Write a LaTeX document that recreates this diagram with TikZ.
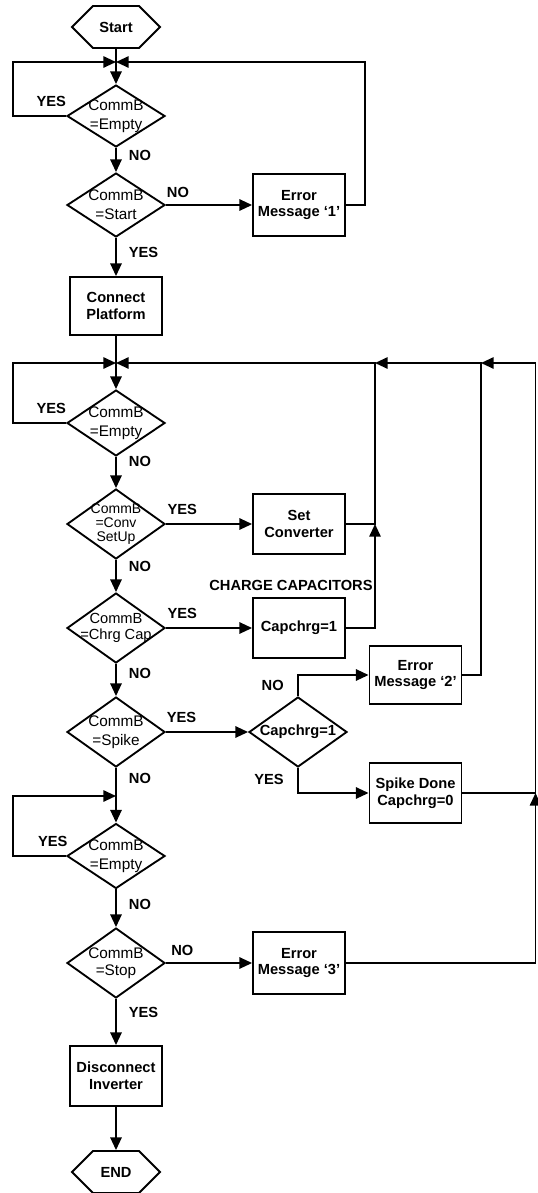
\documentclass[tikz,border=0pt]{standalone}
\usepackage{fontspec}
\setmainfont{Liberation Sans}
\usetikzlibrary{shapes.geometric, shapes.symbols, arrows.meta, positioning}

\begin{document}
\begin{tikzpicture}[
  x=0.75pt, y=-0.75pt,
  >={Triangle[length=9.5pt,width=8.5pt]},
  line width=1.4pt,
  term/.style={draw, signal, signal to=west and east, signal pointer angle=90, minimum width=66pt, minimum height=31.5pt, inner sep=1pt, font=\bfseries\fontsize{11}{12.5}\selectfont},
  box/.style={draw, rectangle, minimum width=69pt, minimum height=45pt, inner sep=2pt, align=center, font=\bfseries\fontsize{11}{12.5}\selectfont},
  dia/.style={draw, diamond, minimum width=73.5pt, minimum height=52.5pt, inner sep=0pt},
  dtext/.style={align=center, inner sep=0pt, font=\fontsize{11.5}{14}\selectfont},
  lbl/.style={inner sep=1pt, font=\bfseries\fontsize{11}{12.5}\selectfont}
]
\useasboundingbox (0,0) rectangle (537,1193);

% main column
\node[term] (begin) at (116,27) {Start};
\coordinate (j1) at (116,62);
\node[dia, minimum height=46.5pt, label={[dtext]center:{CommB\\=Empty}}] (empty1) at (116,116) {};
\node[dia, minimum height=48pt, label={[dtext]center:{CommB\\=Start}}] (chk) at (116,205) {};
\node[box, minimum height=46.5pt] (err1) at (299,205) {Error\\Message ‘1’};
\node[box, minimum height=43.5pt] (conn) at (116,306) {Connect\\Platform};

\coordinate (j2) at (116,363);
\node[dia, minimum height=49.5pt, label={[dtext]center:{CommB\\=Empty}}] (empty2) at (116,423) {};
\node[dia, label={[dtext, font=\fontsize{10.5}{10.5}\selectfont]center:{CommB\\=Conv\\SetUp}}] (conv) at (116,524) {};
\node[box] (setc) at (299,524) {Set\\Converter};
\node[dia, label={[dtext, font=\fontsize{11}{11.5}\selectfont]center:{CommB\\=Chrg Cap}}] (chrg) at (116,628) {};
\node[box] (capc) at (299,628) {Capchrg=1};
\node[lbl, above=3pt of capc, xshift=-6pt] (chglbl) {CHARGE CAPACITORS};
\node[dia, label={[dtext]center:{CommB\\=Spike}}] (spike) at (116,732) {};

% spike branch
\node[dia, label={[dtext, font=\bfseries\fontsize{11}{12.5}\selectfont]center:{Capchrg=1}}] (capd) at (298,732) {};
\node[box, minimum height=43.5pt] (err2) at (415.5,675) {Error\\Message ‘2’};
\node[box] (spd) at (415.5,793) {Spike Done\\Capchrg=0};

\coordinate (j3) at (116,796);
\node[dia, minimum height=48.75pt, label={[dtext]center:{CommB\\=Empty}}] (empty3) at (116,856) {};
\node[dia, label={[dtext, font=\fontsize{11.5}{13}\selectfont]center:{CommB\\=Stop}}] (stop) at (116,963) {};
\node[box, minimum height=46pt] (err3) at (299,963) {Error\\Message ‘3’};
\node[box] (disc) at (116,1076) {Disconnect\\Inverter};
\node[term] (finish) at (116,1172) {END};

% return corners
\coordinate (ja) at (375,363);
\coordinate (jb) at (375,524);
\coordinate (jc) at (481,363);
\coordinate (jd) at (535.5,363);
\coordinate (je) at (535.5,793);

% flows
\draw[->] (begin) -- (empty1);
\draw[->] (empty1.west) -- ++(-53,0) node[lbl, pos=0.28, above=5pt] {YES} |- (j1);
\draw[->] (empty1) -- node[lbl, pos=0.3, right=8pt] {NO} (chk);
\draw[->] (chk) -- node[lbl, pos=0.14, above=4pt] {NO} (err1);
\draw[->] (err1.east) -- ++(19,0) |- (j1);
\draw[->] (chk) -- node[lbl, pos=0.375, right=8pt] {YES} (conn);

\draw[->] (conn) -- (empty2);
\draw[->] (empty2.west) -- ++(-53,0) node[lbl, pos=0.28, above=5pt] {YES} |- (j2);
\draw[->] (empty2) -- node[lbl, pos=0.15, right=8pt] {NO} (conv);
\draw[->] (conv) -- node[lbl, pos=0.19, above=5pt] {YES} (setc);
\draw[->] (conv) -- node[lbl, pos=0.2, right=8pt] {NO} (chrg);
\draw[->] (chrg) -- node[lbl, pos=0.19, above=5pt] {YES} (capc);
\draw[->] (chrg) -- node[lbl, pos=0.3, right=8pt] {NO} (spike);
\draw[->] (spike) -- node[lbl, pos=0.19, above=5pt] {YES} (capd);

% Capchrg test
\draw[->] (capd.north) |- node[lbl, pos=0.25, left=9pt] {NO} (err2.west);
\draw[->] (capd.south) |- node[lbl, pos=0.23, left=9pt] {YES} (spd.west);

% back to the waiting loop
\draw[->] (setc.east) -| (ja) -- (j2);
\draw[->] (capc.east) -| (jb);
\draw[->] (err2.east) -| (jc) -- (ja);
\draw[->] (spd.east) -| (jd) -- (jc);
\draw[->] (err3.east) -| (je);

\draw[->] (spike) -- node[lbl, pos=0.2, right=8pt] {NO} (empty3);
\draw[->] (empty3.west) -- ++(-53,0) node[lbl, pos=0.25, above=5pt] {YES} |- (j3);
\draw[->] (empty3) -- node[lbl, pos=0.4, right=8pt] {NO} (stop);
\draw[->] (stop) -- node[lbl, pos=0.19, above=4pt] {NO} (err3);
\draw[->] (stop) -- node[lbl, pos=0.3, right=8pt] {YES} (disc);
\draw[->] (disc) -- (finish);

\end{tikzpicture}
\end{document}
